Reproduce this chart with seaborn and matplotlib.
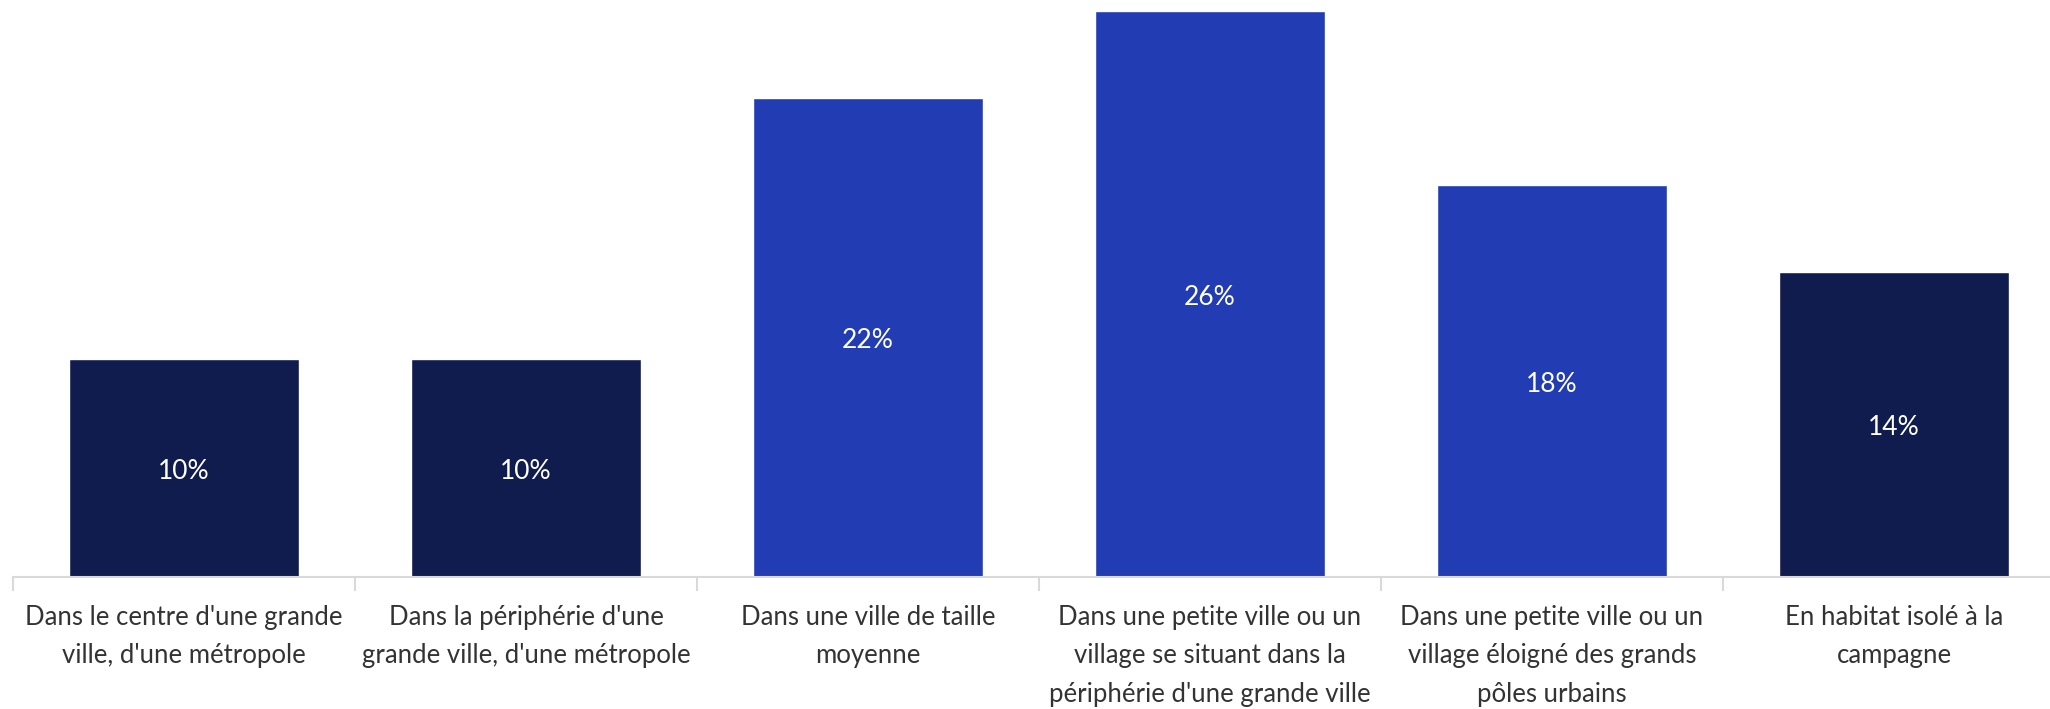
import pandas as pd
import numpy as np
import matplotlib.pyplot as plt
import seaborn as sns
from matplotlib.ticker import FixedLocator

# data
categories = [
    "Dans le centre d'une grande\nville, d'une métropole",
    "Dans la périphérie d'une\ngrande ville, d'une métropole",
    "Dans une ville de taille\nmoyenne",
    "Dans une petite ville ou un\nvillage se situant dans la\npériphérie d'une grande ville",
    "Dans une petite ville ou un\nvillage éloigné des grands\npôles urbains",
    "En habitat isolé à la\ncampagne",
]
values = [10, 10, 22, 26, 18, 14]
bar_colors = ["#111c4e", "#111c4e", "#223cb4", "#223cb4", "#223cb4", "#111c4e"]

df = pd.DataFrame({"cat": categories, "val": values})

sns.set_style("white")
plt.rcParams['font.family'] = ['Lato', 'DejaVu Sans']

fig = plt.figure(figsize=(20.5, 7.09), dpi=100)
ax = fig.add_axes([13 / 2050, 1 - 577 / 709, 1 - 13 / 2050, 577 / 709])

sns.barplot(data=df, x="cat", y="val", hue="cat", palette=bar_colors,
            width=0.67, legend=False, saturation=1, ax=ax)

## value labels
for i, v in enumerate(values):
    ax.text(i, v / 2 - 0.15, f"{v}%", ha="center", va="center", color="white", fontsize=19)

ax.set_ylim(0, 26.5)
ax.set_xlim(-0.5, -0.5 + 2037 / 342)
ax.set_xlabel("")
ax.set_ylabel("")
ax.set_yticks([])

for s in ["top", "right", "left"]:
    ax.spines[s].set_visible(False)
ax.spines["bottom"].set_color("#d9d9d9")
ax.spines["bottom"].set_linewidth(1.5)

ax.set_xticks(range(len(categories)))
ax.set_xticklabels(categories, fontsize=18.5, color="#333333", linespacing=1.68)
ax.tick_params(axis="x", which="major", length=0, pad=20)
ax.xaxis.set_minor_locator(FixedLocator(np.arange(-0.5, 6, 1.0)))
ax.tick_params(axis="x", which="minor", length=10, color="#d9d9d9", width=1.5, bottom=True)

plt.savefig("out.png", dpi=100)
